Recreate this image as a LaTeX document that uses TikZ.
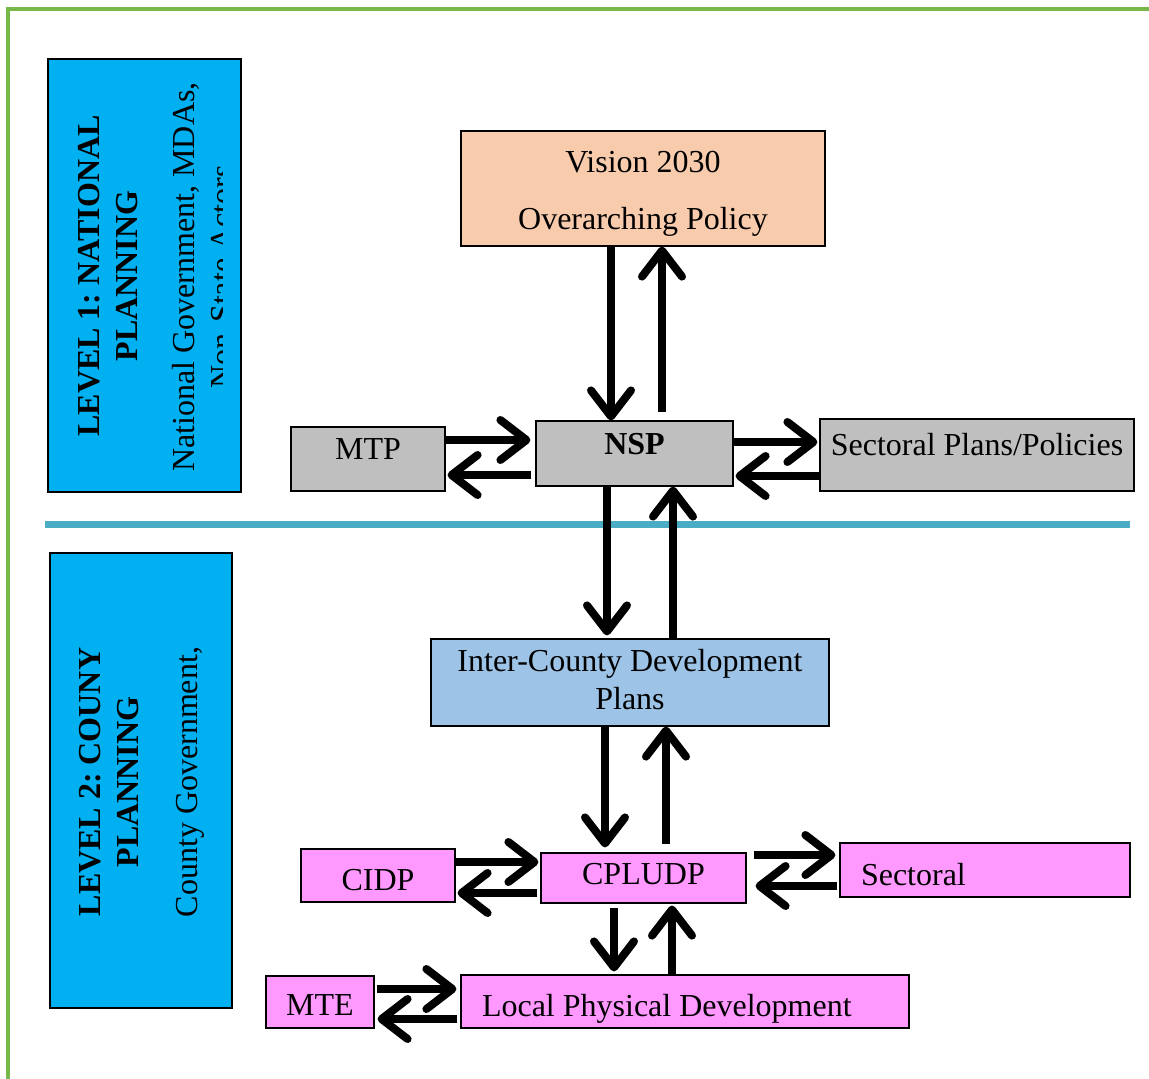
\documentclass[tikz,border=0pt]{standalone}
\usepackage{fontspec}
\setmainfont{Liberation Serif}
\usetikzlibrary{arrows.meta}
\frenchspacing

\definecolor{framegreen}{RGB}{119,185,72}
\definecolor{sepblue}{RGB}{75,172,198}
\definecolor{lvlcyan}{RGB}{0,176,240}
\definecolor{peach}{RGB}{248,203,173}
\definecolor{boxgray}{RGB}{191,191,191}
\definecolor{icblue}{RGB}{157,195,230}
\definecolor{pinkbox}{RGB}{255,153,255}

\begin{document}
\begin{tikzpicture}[x=1pt,y=-1pt,
  box/.style={draw=black, line width=1.2pt, inner sep=0pt, font=\fontsize{32}{38}\selectfont},
  onerow/.style={box, text height=22pt, text depth=0pt},
  arr/.style={line width=8pt, -{Straight Barb[length=26pt,width=40pt,round]}},
  lvltext/.style={rotate=90, inner sep=0pt, align=center, font=\fontsize{32}{38}\selectfont}]

\useasboundingbox (0,0) rectangle (1149,1079);

%Frame
\draw [framegreen, line width=4pt] (8,1079) -- (8,9) -- (1149,9);
%Separator between the two levels
\draw [sepblue, line width=7pt] (45,524) -- (1130,524);

%Level 1
\node [draw=black, line width=1.2pt, fill=lvlcyan, minimum width=193pt, minimum height=433pt] (lvlone) at (144.5,275.5) {};
\node [lvltext, font=\fontsize{32}{38}\selectfont\bfseries] (lvlonetitle) at (108.5,276) {LEVEL 1: NATIONAL\\PLANNING};
\begin{scope}
\clip (lvlone.south west) rectangle ([xshift=-19pt]lvlone.north east);
\node [lvltext] (lvloneactors) at (203,277) {National Government, MDAs,\\Non-State Actors};
\end{scope}

%Level 2
\node [draw=black, line width=1.2pt, fill=lvlcyan, minimum width=182pt, minimum height=455pt] (lvltwo) at (141,780.5) {};
\node [lvltext, font=\fontsize{32}{38}\selectfont\bfseries] (lvltwotitle) at (109.5,782) {LEVEL 2: COUNY\\PLANNING};
\node [lvltext, anchor=base] (lvltwoactors) at (197,782) {County Government,};

%National plans
\node [box, fill=peach, minimum width=364pt, minimum height=115pt, align=center] (vision) at (643,188.5) {\rule{0pt}{32pt}Vision 2030\\[19pt]Overarching Policy};
\node [onerow, fill=boxgray, minimum width=154pt, minimum height=64pt, text depth=22pt] (mtp) at (368,459) {MTP};
\node [onerow, fill=boxgray, minimum width=197pt, minimum height=65pt, text depth=20pt, font=\fontsize{32}{38}\selectfont\bfseries] (nsp) at (634.5,453.5) {NSP};
\node [onerow, fill=boxgray, minimum width=314pt, minimum height=72pt, text depth=22pt] (secpol) at (977,455) {Sectoral Plans/Policies};

%County plans
\node [box, fill=icblue, minimum width=398pt, minimum height=87pt, align=center] (icdp) at (630,682.5) {Inter-County Development\\Plans\rule[-6pt]{0pt}{6pt}};
\node [onerow, fill=pinkbox, minimum width=205pt, minimum height=50pt, text depth=10pt] (cpludp) at (643.5,878) {CPLUDP};
\node [onerow, fill=pinkbox, minimum width=154pt, minimum height=53pt, text height=30pt] (cidp) at (378,875.5) {CIDP};
\node [onerow, fill=pinkbox, minimum width=290pt, minimum height=54pt, text height=30pt, inner xsep=21pt, text width=248pt, align=flush left] (sectoral) at (985,870) {Sectoral};
\node [onerow, fill=pinkbox, minimum width=108pt, minimum height=52pt, text height=27pt] (mte) at (320,1002) {MTE};
\node [onerow, fill=pinkbox, minimum width=448pt, minimum height=53pt, text height=30pt, inner xsep=21pt, text width=406pt, align=flush left] (lpd) at (685,1001.5) {Local Physical Development};

%Arrows
\draw [arr] ([xshift=-32pt]vision.south) -- ([xshift=-23.5pt]nsp.north);
\draw [arr] ([xshift=27.5pt,yshift=8pt]nsp.north) -- ([xshift=19pt]vision.south);
\draw [arr] ([xshift=-27.5pt]nsp.south) -- ([xshift=-23pt,yshift=3pt]icdp.north);
\draw [arr] ([xshift=43pt]icdp.north) -- ([xshift=38.5pt]nsp.south);
\draw [arr] ([yshift=19pt]mtp.east) -- ([xshift=-5pt,yshift=13.5pt]nsp.west);
\draw [arr] ([xshift=-4pt,yshift=-21.5pt]nsp.west) -- ([xshift=2pt,yshift=-16pt]mtp.east);
\draw [arr] ([yshift=11.5pt]nsp.east) -- ([xshift=-2pt,yshift=13pt]secpol.west);
\draw [arr] ([yshift=-21pt]secpol.west) -- ([xshift=2pt,yshift=-22.5pt]nsp.east);
\draw [arr] ([xshift=-25pt]icdp.south) -- ([xshift=-38.5pt,yshift=5pt]cpludp.north);
\draw [arr] ([xshift=22.5pt,yshift=8pt]cpludp.north) -- ([xshift=36pt]icdp.south);
\draw [arr] ([yshift=13.5pt]cidp.east) -- ([xshift=-2pt,yshift=16pt]cpludp.west);
\draw [arr] ([xshift=-3pt,yshift=-15pt]cpludp.west) -- ([xshift=2pt,yshift=-17.5pt]cidp.east);
\draw [arr] ([xshift=7pt,yshift=23pt]cpludp.east) -- ([xshift=-4pt,yshift=15pt]sectoral.west);
\draw [arr] ([xshift=-2pt,yshift=-16pt]sectoral.west) -- ([xshift=9pt,yshift=-8pt]cpludp.east);
\draw [arr] ([xshift=-29.5pt,yshift=-4pt]cpludp.south) -- ([xshift=-71pt,yshift=3pt]lpd.north);
\draw [arr] ([xshift=-13pt]lpd.north) -- ([xshift=28.5pt,yshift=-2pt]cpludp.south);
\draw [arr] ([xshift=2pt,yshift=13pt]mte.east) -- ([xshift=-4pt,yshift=12.5pt]lpd.west);
\draw [arr] ([xshift=-3pt,yshift=-17.5pt]lpd.west) -- ([xshift=3pt,yshift=-17pt]mte.east);

\end{tikzpicture}
\end{document}
